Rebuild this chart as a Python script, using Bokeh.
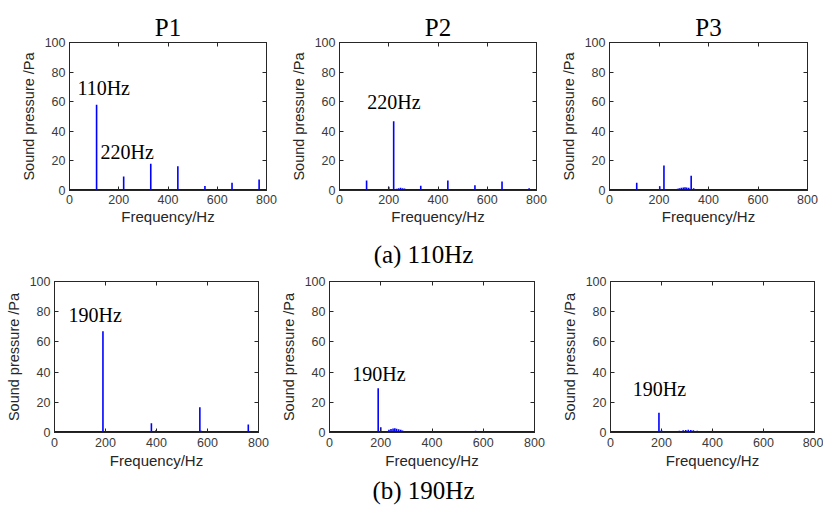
from bokeh.plotting import figure
from bokeh.models import Range1d, LinearAxis, Div, FixedTicker
from bokeh.layouts import column, row
from bokeh.core.properties import value
from bokeh.embed import file_html
from bokeh.resources import INLINE

# ---------------- data ----------------
x_ticks = [0, 200, 400, 600, 800]
y_ticks = [0, 20, 40, 60, 80, 100]
column_titles = ["P1", "P2", "P3"]
row_captions = ["(a) 110Hz", "(b) 190Hz"]
x_label = "Frequency/Hz"
y_label = "Sound pressure /Pa"

# (a) 110 Hz excitation
a_p1_freq = [110, 220, 330, 440, 550, 660, 770]
a_p1_amp = [58, 9.5, 18, 16.4, 3.0, 5.2, 7.4]

a_p2_freq = [110, 200, 220, 232, 240, 248, 256, 264, 272, 280, 290, 330, 440, 550, 640, 660, 680, 700, 770]
a_p2_amp = [6.8, 2.5, 46.8, 1.2, 1.5, 1.8, 1.5, 1.3, 1.0, 0.8, 0.6, 3.2, 6.8, 3.5, 0.8, 6.0, 1.0, 0.7, 1.5]

a_p3_freq = [110, 203, 220, 250, 275, 282, 290, 298, 305, 312, 320, 330, 340, 350, 370, 400, 440, 660]
a_p3_amp = [5.2, 2.9, 16.9, 0.8, 1.2, 1.6, 1.9, 2.0, 2.2, 2.0, 1.8, 10.0, 1.5, 1.0, 0.8, 1.0, 1.0, 0.7]

# (b) 190 Hz excitation
b_p1_freq = [190, 193, 380, 398, 570, 575, 760]
b_p1_amp = [67, 1.0, 6.2, 1.5, 16.8, 1.2, 5.3]

b_p2_freq = [190, 200, 225, 232, 240, 248, 255, 262, 270, 278, 285, 295, 310, 570]
b_p2_amp = [29.3, 3.5, 1.0, 1.8, 2.3, 2.6, 2.8, 2.5, 2.2, 1.8, 1.4, 0.9, 0.6, 1.2]

b_p3_freq = [190, 200, 240, 255, 270, 285, 295, 305, 315, 325, 340, 355, 370, 385, 400, 415, 430, 450]
b_p3_amp = [13, 1.5, 0.6, 0.9, 1.2, 1.5, 1.7, 1.8, 1.7, 1.5, 1.2, 1.0, 0.9, 0.8, 1.2, 0.8, 0.6, 0.4]

floor_freq = [0, 800]
floor_amp = [0.4, 0.4]

# peak labels
a_p1_notes = ["110Hz", "220Hz"]
a_p2_notes = ["220Hz"]
a_p3_notes = []
b_p1_notes = ["190Hz"]
b_p2_notes = ["190Hz"]
b_p3_notes = ["190Hz"]

# ---------------- styling / layout ----------------
AX = "#262626"
TICKC = "#3a3a3a"
LINE = "#0000ff"
SANS = "Liberation Sans"
SERIF = "Liberation Serif"


def style_axis(ax, show, lab_standoff=4, axlab_standoff=1):
    ax.axis_line_color = AX
    ax.major_tick_line_color = AX
    ax.major_tick_in = 4
    ax.major_tick_out = 0
    ax.minor_tick_line_color = None
    if show:
        ax.major_label_text_font = SANS
        ax.major_label_text_font_size = "12.5px"
        ax.major_label_text_color = TICKC
        ax.major_label_standoff = lab_standoff
        ax.axis_label_text_font = SANS
        ax.axis_label_text_font_style = "normal"
        ax.axis_label_text_color = AX
        ax.axis_label_standoff = axlab_standoff
    else:
        ax.major_label_text_font_size = "1px"
        ax.major_label_text_color = None
        ax.major_label_text_alpha = 0
        ax.major_label_standoff = 0


def panel(freqs, amps, notes, note_pos, title, fw, fh, bl, br, bt, bb, xs_off=(4, 1)):
    p = figure(frame_width=fw, frame_height=fh,
               x_range=Range1d(0, 800), y_range=Range1d(0, 100),
               output_backend="svg", toolbar_location=None,
               x_axis_location=None, y_axis_location=None,
               min_border_left=bl, min_border_right=br,
               min_border_top=bt, min_border_bottom=bb,
               title=title)
    p.outline_line_color = AX
    p.xgrid.visible = False
    p.ygrid.visible = False
    if title:
        p.title.align = "center"
        p.title.text_font = SERIF
        p.title.text_font_size = "25px"
        p.title.text_font_style = "normal"
        p.title.text_color = "black"
        p.title.standoff = 4

    bottom = LinearAxis(ticker=FixedTicker(ticks=x_ticks), axis_label=x_label)
    left = LinearAxis(ticker=FixedTicker(ticks=y_ticks), axis_label=y_label)
    top = LinearAxis(ticker=FixedTicker(ticks=x_ticks))
    right = LinearAxis(ticker=FixedTicker(ticks=y_ticks))
    p.add_layout(bottom, "below")
    p.add_layout(left, "left")
    p.add_layout(top, "above")
    p.add_layout(right, "right")

    style_axis(bottom, True, xs_off[0], xs_off[1])
    style_axis(left, True, 4, 5)
    style_axis(top, False)
    style_axis(right, False)
    bottom.axis_label_text_font_size = "15px"
    left.axis_label_text_font_size = "14.5px"

    p.line(floor_freq, floor_amp, line_color=LINE, line_width=2)
    p.segment(x0=freqs, y0=[0] * len(freqs), x1=freqs, y1=amps,
              line_color=LINE, line_width=1.6)

    if notes:
        xs = [q[0] for q in note_pos]
        ys = [q[1] for q in note_pos]
        p.text(x=xs, y=ys, text=notes, text_font=value(SERIF),
               text_font_size="20px", text_baseline="middle",
               text_align="left", text_color="black")
    return p


# top row: frames at x 69/339/609, y 42-190
f1 = panel(a_p1_freq, a_p1_amp, a_p1_notes, [(32, 69), (126, 25.7)], column_titles[0], 197, 148, 69, 12, 42, 44)
f2 = panel(a_p2_freq, a_p2_amp, a_p2_notes, [(113, 59.5)], column_titles[1], 197, 148, 61, 12, 42, 44)
f3 = panel(a_p3_freq, a_p3_amp, a_p3_notes, [], column_titles[2], 198, 148, 61, 16, 42, 44)

# bottom row: frames at x 54/329/610, y 281-432
f4 = panel(b_p1_freq, b_p1_amp, b_p1_notes, [(55, 78)], None, 204, 151, 54, 12, 14, 42, (5, 2))
f5 = panel(b_p2_freq, b_p2_amp, b_p2_notes, [(89, 39)], None, 205, 151, 59, 12, 14, 42, (5, 2))
f6 = panel(b_p3_freq, b_p3_amp, b_p3_notes, [(87, 29)], None, 204, 151, 64, 9, 14, 42, (5, 2))

cap_style = ("width:823px;box-sizing:border-box;text-align:center;"
             "font-family:'Liberation Serif';font-size:25px;color:black;line-height:24px;")
cap_a = Div(text=('<div style="' + cap_style + 'padding:9px 0 0 24px;">'
                  + row_captions[0] + '</div>'), width=823, height=33, margin=0)
cap_b = Div(text=('<div style="' + cap_style + 'padding:5px 0 0 24px;">'
                  + row_captions[1] + '</div>'), width=823, height=32, margin=0)

layout = column(row(f1, f2, f3), cap_a, row(f4, f5, f6), cap_b)

open("out.html", "w").write(file_html(layout, INLINE))
